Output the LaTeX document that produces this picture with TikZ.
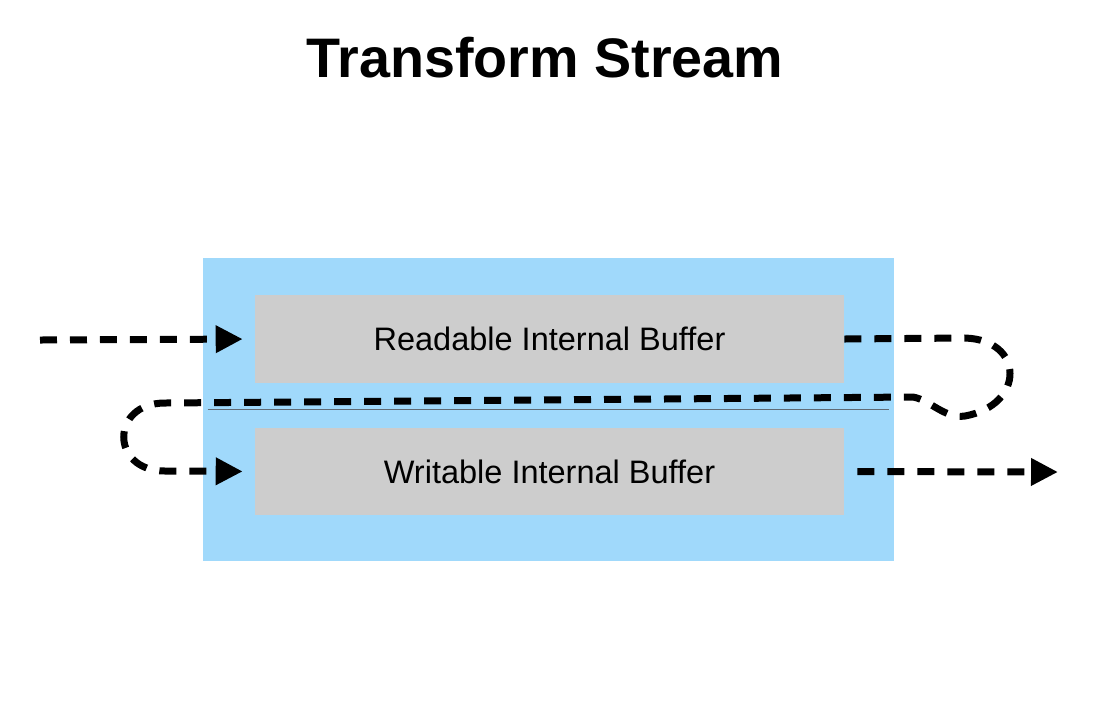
\documentclass[tikz,border=0pt]{standalone}
\usepackage{fontspec}
\setmainfont{Liberation Sans}
\definecolor{streamblue}{RGB}{160, 217, 251}
\definecolor{buffergray}{RGB}{205, 205, 205}
\definecolor{dividergray}{RGB}{95, 105, 115}
\usetikzlibrary{arrows.meta, positioning, calc}

\tikzset{
  bufferbox/.style={fill=buffergray, inner sep=0pt, minimum width=11.78cm, minimum height=1.76cm, font=\fontsize{18.5}{22}\selectfont},
  flow/.style={line width=0.14cm, dash pattern=on 0.34cm off 0.26cm, -{Triangle[length=0.54cm, width=0.52cm]}},
}

\begin{document}
\begin{tikzpicture}[x=0.02cm, y=-0.02cm]
  \useasboundingbox (0,0) rectangle (1119,708);

  \node[font=\bfseries\fontsize{31.7}{36}\selectfont] (title) at (545,58) {Transform Stream};

  \node[fill=streamblue, inner sep=0pt, minimum width=13.82cm, minimum height=6.06cm] (stream) at (548.5,409.5) {};
  \node[bufferbox] (readable) at (549.5,339) {Readable Internal Buffer};
  \node[bufferbox, minimum height=1.74cm] (writable) at (549.5,471.5) {Writable Internal Buffer};
  \draw[dividergray, line width=0.6pt] ([xshift=0.1cm]stream.west) -- ([xshift=-0.1cm]stream.east);

  \coordinate (in) at (40,340);
  \coordinate (out) at (1058,472);

  \draw[flow, shorten >=0.24cm] (in) -- (readable.west);
  \draw[flow, shorten >=0.24cm] (readable.east) -- (965,338)
    .. controls (1025,340) and (1025,405) .. (965,416)
    .. controls (945,419) and (930,400) .. (913,397)
    -- (165,403)
    .. controls (110,403) and (110,471) .. (165,471)
    -- (writable.west);
  \draw[flow, shorten <=0.26cm] (writable.east) -- (out);
\end{tikzpicture}
\end{document}
